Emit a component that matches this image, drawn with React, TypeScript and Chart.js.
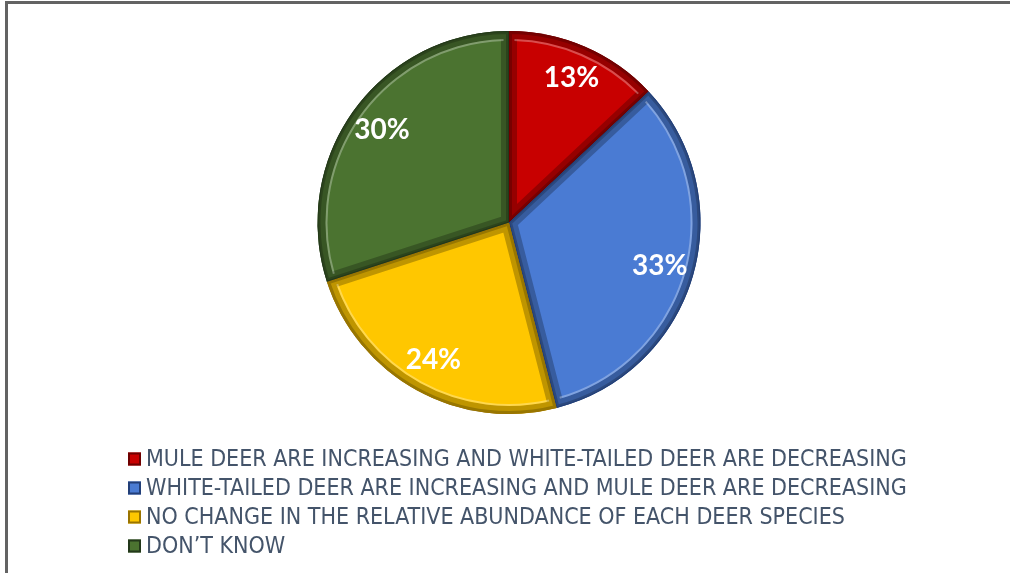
import React, { useEffect, useRef } from "react";
import { Chart, registerables } from "chart.js";

Chart.register(...registerables);

const categories = [
  "MULE DEER ARE INCREASING AND WHITE-TAILED DEER ARE DECREASING",
  "WHITE-TAILED DEER ARE INCREASING AND MULE DEER ARE DECREASING",
  "NO CHANGE IN THE RELATIVE ABUNDANCE OF EACH DEER SPECIES",
  "DON\u2019T KNOW",
];
const values = [13, 33, 24, 30];
const colors = ["#C80000", "#4A7BD3", "#FFC700", "#4B7330"];
const darkColors = ["#6E0000", "#223F78", "#9A7400", "#23381A"];

const bevelPlugin = {
  id: "bevel",
  afterDatasetsDraw(chart: any) {
    const ctx = chart.ctx;
    const meta = chart.getDatasetMeta(0);
    meta.data.forEach((arc: any, i: number) => {
      const { x, y, startAngle, endAngle, outerRadius } = arc.getProps(
        ["x", "y", "startAngle", "endAngle", "outerRadius"],
        true
      );
      const path = () => {
        ctx.beginPath();
        ctx.moveTo(x, y);
        ctx.arc(x, y, outerRadius, startAngle, endAngle);
        ctx.closePath();
      };
      ctx.save();
      path();
      ctx.clip();
      ctx.lineJoin = "miter";
      ctx.lineWidth = 16;
      ctx.strokeStyle = "rgba(0,0,0,0.25)";
      path();
      ctx.stroke();
      ctx.lineWidth = 6;
      ctx.strokeStyle = "rgba(0,0,0,0.2)";
      path();
      ctx.stroke();
      ctx.lineWidth = 2;
      ctx.strokeStyle = "rgba(255,255,255,0.3)";
      ctx.beginPath();
      ctx.arc(x, y, outerRadius - 9, startAngle + 0.03, endAngle - 0.03);
      ctx.stroke();
      ctx.lineWidth = 2;
      ctx.strokeStyle = darkColors[i];
      path();
      ctx.stroke();
      ctx.restore();
    });
  },
};

const labelPlugin = {
  id: "pctLabels",
  afterDatasetsDraw(chart: any) {
    const ctx = chart.ctx;
    const meta = chart.getDatasetMeta(0);
    ctx.save();
    ctx.fillStyle = "#FFFFFF";
    ctx.font = "bold 28px Lato, 'Open Sans', sans-serif";
    ctx.textAlign = "center";
    ctx.textBaseline = "middle";
    meta.data.forEach((arc: any, i: number) => {
      const { x, y, startAngle, endAngle, outerRadius } = arc.getProps(
        ["x", "y", "startAngle", "endAngle", "outerRadius"],
        true
      );
      const mid = (startAngle + endAngle) / 2;
      const r = outerRadius * 0.82;
      ctx.fillText(values[i] + "%", x + Math.cos(mid) * r, y + Math.sin(mid) * r);
    });
    ctx.restore();
  },
};

const legendPlugin = {
  id: "customLegend",
  afterDraw(chart: any) {
    const ctx = chart.ctx;
    ctx.save();
    const x0 = 128;
    const y0 = 459;
    const step = 29;
    const box = 13;
    ctx.font = "23px 'DejaVu Sans Condensed', 'DejaVu Sans', sans-serif";
    ctx.textBaseline = "middle";
    ctx.textAlign = "left";
    categories.forEach((c, i) => {
      const y = y0 + i * step;
      ctx.fillStyle = colors[i];
      ctx.fillRect(x0, y - box / 2, box, box);
      ctx.strokeStyle = darkColors[i];
      ctx.lineWidth = 2;
      ctx.strokeRect(x0 + 1, y - box / 2 + 1, box - 2, box - 2);
      ctx.fillStyle = "#44546A";
      ctx.fillText(c, x0 + box + 5, y + 1);
    });
    ctx.restore();
  },
};

export default function App() {
  const ref = useRef<HTMLCanvasElement>(null);
  useEffect(() => {
    document.body.style.margin = "0";
    const chart = new Chart(ref.current!, {
      type: "pie",
      data: {
        labels: categories,
        datasets: [
          {
            data: values,
            backgroundColor: colors,
            borderColor: darkColors,
            borderWidth: 0,
          },
        ],
      },
      options: {
        animation: false,
        responsive: false,
        maintainAspectRatio: false,
        layout: { padding: { left: 8, right: 0, top: 31, bottom: 159 } },
        plugins: { legend: { display: false }, tooltip: { enabled: false } },
      },
      plugins: [bevelPlugin, labelPlugin, legendPlugin],
    });
    return () => chart.destroy();
  }, []);
  return (
    <div style={{ position: "relative", width: 1010, height: 573, overflow: "hidden", background: "#fff" }}>
      <canvas ref={ref} width={1010} height={573} style={{ position: "absolute", left: 0, top: 0 }} />
      <div
        style={{
          position: "absolute",
          left: 5,
          top: 1,
          width: 1200,
          height: 800,
          border: "3px solid #636363",
          boxSizing: "border-box",
          pointerEvents: "none",
        }}
      />
    </div>
  );
}
